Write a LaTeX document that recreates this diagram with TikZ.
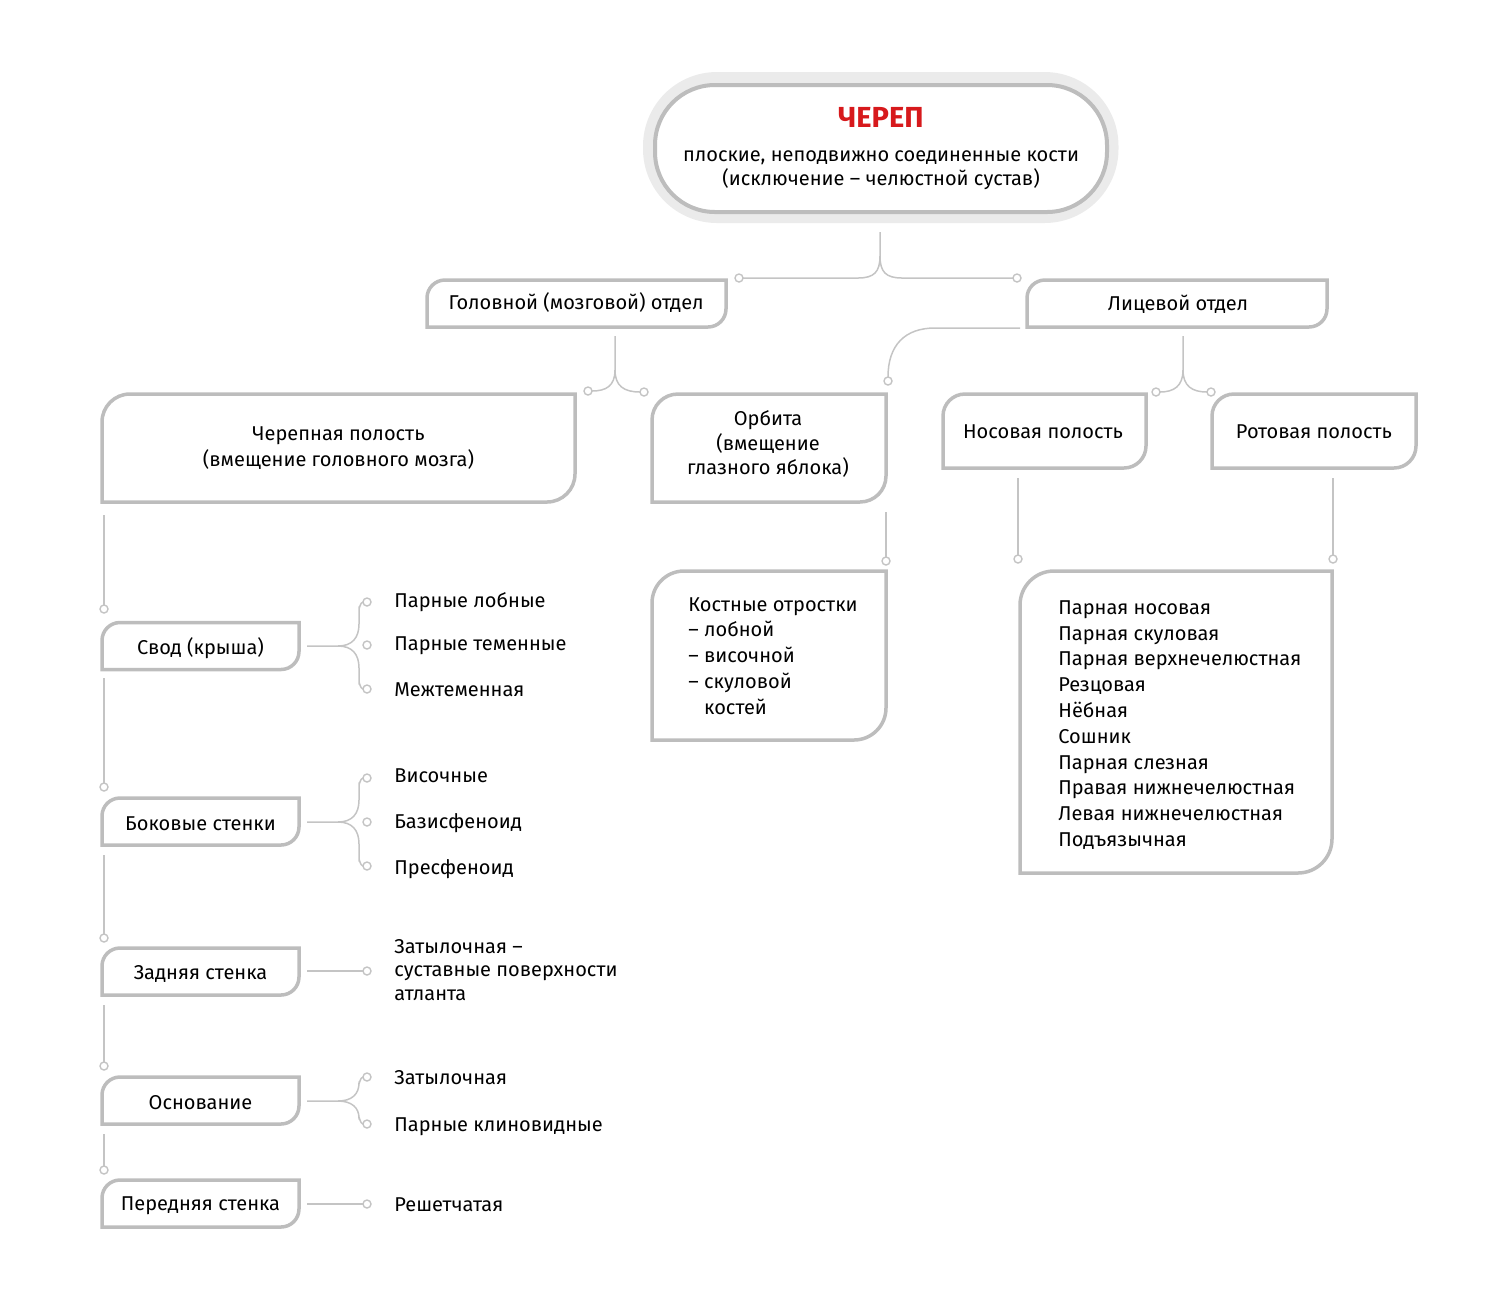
\documentclass[tikz,border=0pt]{standalone}
\usepackage{fontspec}
\setmainfont{Fira Sans}
\definecolor{boxgray}{HTML}{BDBDBD}
\definecolor{linegray}{HTML}{C4C4C4}
\definecolor{halogray}{HTML}{EBEBEB}
\definecolor{titlered}{HTML}{D7191C}
\newcommand\cbox[2]{\draw[boxline] (#1.south west) -- ([yshift=-#2]#1.north west) arc[start angle=180,end angle=90,radius=#2] -- (#1.north east) -- ([yshift=#2]#1.south east) arc[start angle=0,end angle=-90,radius=#2] -- cycle;}
\tikzset{
  txt/.style={font=\fontsize{10}{12.9}\selectfont},
  box/.style={rectangle, inner sep=0pt, outer sep=0pt, align=center, txt},
  boxline/.style={draw=boxgray, line width=1.75pt, fill=white},
  conn/.style={draw=linegray, line width=0.75pt},
  dot/.style={circle, draw=linegray, line width=0.7pt, fill=white, minimum size=4pt, inner sep=0pt, outer sep=0pt},
  item/.style={anchor=west, inner sep=0pt, align=left, txt, text height=7pt, text depth=2pt},
}
\begin{document}
\begin{tikzpicture}[x=0.5pt,y=-0.5pt]
\useasboundingbox (0,0) rectangle (1500,1298);
% ---------- title ----------
\draw[draw=halogray, line width=6pt, rounded corners=34pt] (649,78) rectangle (1112.5,217);
\node[box, minimum width=226pt, minimum height=63.5pt, draw=boxgray, line width=2pt, rounded corners=30pt, fill=white] (title) at (881,148.5)
  {{\fontsize{14.5}{16}\selectfont\bfseries\color{titlered}ЧЕРЕП}\\[4pt]
   плоские, неподвижно соединенные кости\\[-1pt](исключение – челюстной сустав)};
% ---------- level 1 ----------
\node[box, minimum width=149.5pt, minimum height=23.5pt] (head) at (576.5,303.5) {};
\cbox{head}{9pt}
\node[box] (headt) at (576,302.5) {Головной (мозговой) отдел};
\node[box, minimum width=150pt, minimum height=23.5pt] (face) at (1177,303.5) {};
\cbox{face}{9pt}
\node[box] (facet) at (1178,304.5) {Лицевой отдел};
% ---------- level 2 ----------
\node[box, minimum width=236.5pt, minimum height=54pt] (cran) at (338.5,448) {};
\cbox{cran}{14pt}
\node[box] (crant) at (cran) {Черепная полость\\(вмещение головного мозга)};
\node[box, minimum width=117pt, minimum height=54pt] (orb) at (769,448) {};
\cbox{orb}{13pt}
\node[box, font=\fontsize{10}{12.3}\selectfont] (orbt) at (768,444) {Орбита\\(вмещение\\глазного яблока)};
\node[box, minimum width=101.5pt, minimum height=37pt] (nas) at (1044.5,431) {};
\cbox{nas}{11pt}
\node[box] (nast) at (1043,432) {Носовая полость};
\node[box, minimum width=102pt, minimum height=37pt] (oral) at (1314,431) {};
\cbox{oral}{11pt}
\node[box] (oralt) at (1314,432) {Ротовая полость};
% ---------- level 3 ----------
\node[box, minimum width=117pt, minimum height=84.5pt] (proc) at (769,655.5) {};
\cbox{proc}{16pt}
\node[txt, anchor=west, align=left, inner sep=0pt] (proct) at (688,656)
  {Костные отростки\\– лобной\\– височной\\– скуловой\\\phantom{– }костей};
\node[box, minimum width=156pt, minimum height=151pt] (flist) at (1176,722) {};
\cbox{flist}{17pt}
\node[txt, anchor=west, align=left, inner sep=0pt] (flistt) at (1058,725)
  {Парная носовая\\Парная скуловая\\Парная верхнечелюстная\\Резцовая\\Нёбная\\Сошник\\Парная слезная\\Правая нижнечелюстная\\Левая нижнечелюстная\\Подъязычная};
% ---------- left column ----------
\foreach \nm/\yy/\tx in {vault/646/{Свод (крыша)}, lat/821.5/{Боковые стенки}, back/971.5/{Задняя стенка}, base/1100.5/{Основание}, front/1203.5/{Передняя стенка}}{
  \node[box, minimum width=98.5pt, minimum height=23.5pt] (\nm) at (200.5,\yy) {};
  \cbox{\nm}{9pt}
  \node[box] at ([yshift=-1pt]\nm.center) {\tx};
}
% ---------- dots ----------
\node[dot] (d1) at (739,278) {};
\node[dot] (d2) at (1017,278) {};
\node[dot] (d3) at (588,391) {};
\node[dot] (d4) at (644,392) {};
\node[dot] (d5) at (888,381) {};
\node[dot] (d6) at (1156,392) {};
\node[dot] (d7) at (1211,392) {};
\node[dot] (d8) at (886,561) {};
\node[dot] (d9) at (1018,559) {};
\node[dot] (d10) at (1333,559) {};
\node[dot] (l1) at (104,609) {};
\node[dot] (l2) at (104,787) {};
\node[dot] (l3) at (104,938) {};
\node[dot] (l4) at (104,1066) {};
\node[dot] (l5) at (104,1170) {};
% item dots
\node[dot] (s1) at (367,602) {};
\node[dot] (s2) at (367,645) {};
\node[dot] (s3) at (367,689) {};
\node[dot] (b1) at (367,778) {};
\node[dot] (b2) at (367,822) {};
\node[dot] (b3) at (367,866) {};
\node[dot] (z1) at (367,971) {};
\node[dot] (o1) at (367,1077) {};
\node[dot] (o2) at (367,1124) {};
\node[dot] (p1) at (367,1204) {};
% ---------- connectors ----------
\coordinate (tb) at (880,232);
\draw[conn] (tb) -- (880,256) .. controls (880,272) and (874,278) .. (858,278) -- (d1.east);
\draw[conn] (880,256) .. controls (880,272) and (886,278) .. (902,278) -- (d2.west);
\coordinate (hb) at (615,336);
\draw[conn] (hb) -- (615,370) .. controls (615,386) and (606,391) .. (d3.east);
\draw[conn] (615,370) .. controls (615,386) and (624,392) .. (d4.west);
\coordinate (fb) at (1183,336);
\draw[conn] (fb) -- (1183,370) .. controls (1183,386) and (1174,392) .. (d6.east);
\draw[conn] (1183,370) .. controls (1183,386) and (1192,392) .. (d7.west);
\coordinate (fl) at (1020,328);
\draw[conn] (fl) -- (935,328) .. controls (905,328) and (888,345) .. (d5.north);
\draw[conn] (886,512) -- (d8.north);
\draw[conn] (1018,478) -- (d9.north);
\draw[conn] (1333,478) -- (d10.north);
\draw[conn] (104,515) -- (l1.north);
\draw[conn] (104,678) -- (l2.north);
\draw[conn] (104,855) -- (l3.north);
\draw[conn] (104,1005) -- (l4.north);
\draw[conn] (104,1134) -- (l5.north);
% braces
\draw[conn] (307,646) -- (338,646) .. controls (352,646) and (359,638) .. (359,624) -- (359,608) to[out=-90,in=180] (s1.west);
\draw[conn] (338,646) .. controls (352,646) and (359,654) .. (359,668) -- (359,683) to[out=90,in=180] (s3.west);
\draw[conn] (307,822) -- (338,822) .. controls (352,822) and (359,814) .. (359,800) -- (359,784) to[out=-90,in=180] (b1.west);
\draw[conn] (338,822) .. controls (352,822) and (359,830) .. (359,844) -- (359,860) to[out=90,in=180] (b3.west);
\draw[conn] (307,971) -- (z1.west);
\draw[conn] (307,1101) -- (338,1101) .. controls (352,1101) and (359,1094) .. (359,1083) to[out=-90,in=180] (o1.west);
\draw[conn] (338,1101) .. controls (352,1101) and (359,1108) .. (359,1118) to[out=90,in=180] (o2.west);
\draw[conn] (307,1204) -- (p1.west);
% ---------- items ----------
\node[item] (ts1) at (394,602) {Парные лобные};
\node[item] (ts2) at (394,645) {Парные теменные};
\node[item] (ts3) at (394,691) {Межтеменная};
\node[item] (tb1) at (394,777) {Височные};
\node[item] (tb2) at (394,823) {Базисфеноид};
\node[item] (tb3) at (394,869) {Пресфеноид};
\node[txt, anchor=west, align=left, inner sep=0pt] (tz1) at (394,970) {Затылочная –\\[-1pt]суставные поверхности\\[-1pt]атланта};
\node[item] (to1) at (394,1079) {Затылочная};
\node[item] (to2) at (394,1126) {Парные клиновидные};
\node[item] (tp1) at (394,1206) {Решетчатая};
\end{tikzpicture}
\end{document}
